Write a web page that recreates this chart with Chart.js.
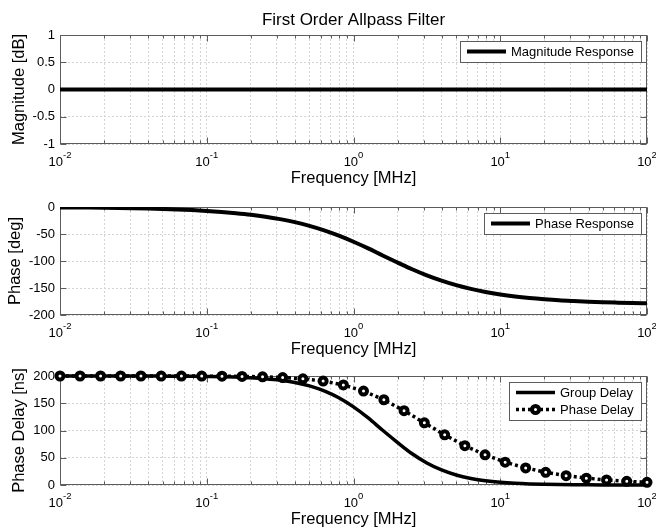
<!DOCTYPE html>
<html><head><meta charset="utf-8">
<script src="https://cdn.jsdelivr.net/npm/chart.js@4/dist/chart.umd.min.js"></script>
<style>
html,body{margin:0;padding:0;background:#fff;}
#wrap{position:relative;width:656px;height:528px;background:#fff;}
#wrap canvas{position:absolute;left:0;top:0;}
</style></head><body>
<div id="wrap">
<canvas id="c1" width="656" height="528"></canvas>
<canvas id="c2" width="656" height="528"></canvas>
<canvas id="c3" width="656" height="528"></canvas>
</div>
<script>
// ---------- data ----------
const chartTitle = 'First Order Allpass Filter';
const xAxisTitle = 'Frequency [MHz]';
const freqMHz = [0.01,0.0126,0.0158,0.02,0.0251,0.0316,0.0398,0.0501,0.0631,0.0794,
  0.1,0.126,0.158,0.2,0.251,0.316,0.398,0.501,0.631,0.794,
  1,1.26,1.58,2,2.51,3.16,3.98,5.01,6.31,7.94,
  10,12.6,15.8,20,25.1,31.6,39.8,50.1,63.1,79.4,100];
const magnitudeDb = [0,0,0,0,0,0,0,0,0,0,0,0,0,0,0,0,0,0,0,0,0,0,0,0,0,0,0,0,0,0,0,0,0,0,0,0,0,0,0,0,0];
const phaseDeg = [-0.7,-0.9,-1.1,-1.4,-1.8,-2.3,-2.9,-3.6,-4.5,-5.7,
  -7.2,-9.1,-11.4,-14.3,-17.9,-22.5,-28.1,-35.0,-43.3,-53.1,
  -64.3,-76.7,-89.8,-102.9,-115.3,-126.6,-136.4,-144.8,-151.7,-157.3,
  -161.9,-165.6,-168.5,-170.9,-172.8,-174.2,-175.4,-176.4,-177.1,-177.7,-178.2];
const groupDelayNs = [200,200,200,200,200,200,199.9,199.8,199.7,199.5,
  199.2,198.8,198.0,196.9,195.1,192.4,188.2,182.0,172.8,160.1,
  143.4,123.0,100.4,77.8,57.3,40.4,27.6,18.3,12.0,7.7,
  4.9,3.1,2.0,1.3,0.8,0.5,0.3,0.2,0.1,0.1,0.1];
const freqMarkersMHz = [0.01,0.0137,0.0189,0.0259,0.0356,0.0489,0.0672,0.0924,0.127,0.174,
  0.240,0.329,0.452,0.621,0.853,1.17,1.61,2.21,3.04,4.18,
  5.74,7.88,10.8,14.9,20.4,28.1,38.6,53.0,72.8,100];
const phaseDelayNs = [200,200,200,200,200,199.9,199.9,199.8,199.6,199.2,
  198.5,197.2,194.9,190.7,183.7,172.4,156.4,136.3,114.0,92.0,
  72.1,55.4,41.9,31.3,23.3,17.2,12.6,9.3,6.8,4.9];
const xTickValues = [0.01,0.1,1,10,100];
const xTickExponents = ['-2','-1','0','1','2'];
const magTicks = [-1,-0.5,0,0.5,1];
const phaseTicks = [-200,-150,-100,-50,0];
const delayTicks = [0,50,100,150,200];

// ---------- styling / helpers ----------
const FONT = "'Liberation Sans', Arial, sans-serif";
Chart.defaults.font.family = FONT;
Chart.defaults.color = '#000';
const AXIS_COLOR = '#5c5c5c';
const GRID_COLOR = '#d4d4d4';

const xGridTicks = [];
for (let e = -2; e <= 1; e++) {
  for (let m = 1; m <= 9; m++) xGridTicks.push({value: m * Math.pow(10, e), major: m === 1});
}
xGridTicks.push({value: 100, major: true});

const zip = (xs, ys) => xs.map((v, i) => ({x: v, y: ys[i]}));

const axesDecor = {
  id: 'axesDecor',
  beforeDatasetsDraw(chart) {
    const {ctx, chartArea: a, scales: {x, y}} = chart;
    const L = Math.round(a.left) + 0.5, R = Math.round(a.right) - 0.5;
    const T = Math.round(a.top) + 0.5, B = Math.round(a.bottom) - 0.5;
    ctx.save();
    ctx.strokeStyle = AXIS_COLOR; ctx.lineWidth = 1; ctx.setLineDash([]);
    ctx.beginPath();
    xGridTicks.forEach(t => {
      const px = Math.round(x.getPixelForValue(t.value)) + 0.5;
      const len = t.major ? 6 : 3;
      ctx.moveTo(px, B); ctx.lineTo(px, B - len);
      ctx.moveTo(px, T); ctx.lineTo(px, T + len);
    });
    y.ticks.forEach(t => {
      const py = Math.round(y.getPixelForValue(t.value)) + 0.5;
      ctx.moveTo(L, py); ctx.lineTo(L + 6, py);
      ctx.moveTo(R, py); ctx.lineTo(R - 6, py);
    });
    ctx.stroke();
    ctx.strokeRect(L, T, R - L, B - T);
    ctx.restore();
  },
  afterDraw(chart) {
    const {ctx, chartArea: a, scales: {x}} = chart;
    ctx.save();
    ctx.fillStyle = '#000';
    ctx.textBaseline = 'alphabetic';
    xTickValues.forEach((v, i) => {
      const px = x.getPixelForValue(v);
      ctx.font = `13px ${FONT}`;
      const w1 = ctx.measureText('10').width;
      ctx.font = `9.5px ${FONT}`;
      const w2 = ctx.measureText(xTickExponents[i]).width;
      const sx = px - (w1 + w2) / 2;
      ctx.font = `13px ${FONT}`;
      ctx.textAlign = 'left';
      ctx.fillText('10', sx, a.bottom + 22);
      ctx.font = `9.5px ${FONT}`;
      ctx.fillText(xTickExponents[i], sx + w1, a.bottom + 14);
    });
    ctx.restore();
  }
};

const legendBox = {
  id: 'legendBox',
  afterDraw(chart, args, opts) {
    if (!opts.items || !opts.items.length) return;
    const {ctx, chartArea: a} = chart;
    ctx.save();
    ctx.font = `13px ${FONT}`;
    const tw = Math.max(...opts.items.map(it => ctx.measureText(it.label).width));
    const w = Math.round(51 + tw + 7);
    const h = 4 + 17 * opts.items.length;
    const right = Math.round(a.right) - 6, top = Math.round(a.top) + 6;
    const left = right - w;
    ctx.fillStyle = '#fff';
    ctx.fillRect(left, top, w, h);
    ctx.strokeStyle = AXIS_COLOR; ctx.lineWidth = 1;
    ctx.strokeRect(left + 0.5, top + 0.5, w, h);
    opts.items.forEach((it, i) => {
      const cy = top + 10.5 + 17 * i;
      const x1 = left + 7, x2 = left + 46;
      ctx.strokeStyle = '#000'; ctx.lineWidth = it.width; ctx.lineCap = 'butt';
      ctx.setLineDash(it.dash || []);
      ctx.beginPath(); ctx.moveTo(x1, cy); ctx.lineTo(x2, cy); ctx.stroke();
      ctx.setLineDash([]);
      if (it.marker) {
        ctx.beginPath(); ctx.arc((x1 + x2) / 2, cy, 3.5, 0, Math.PI * 2);
        ctx.fillStyle = '#fff'; ctx.fill();
        ctx.lineWidth = 4; ctx.strokeStyle = '#000'; ctx.stroke();
      }
      ctx.fillStyle = '#000'; ctx.textBaseline = 'middle'; ctx.textAlign = 'left';
      ctx.fillText(it.label, left + 51, cy + 0.5);
    });
    ctx.restore();
  }
};

const mainTitle = {
  id: 'mainTitle',
  afterDraw(chart, args, opts) {
    if (!opts.text) return;
    const {ctx, chartArea: a} = chart;
    ctx.save();
    ctx.font = `17px ${FONT}`;
    ctx.fillStyle = '#000'; ctx.textAlign = 'center'; ctx.textBaseline = 'alphabetic';
    ctx.fillText(opts.text, (a.left + a.right) / 2, 25);
    ctx.restore();
  }
};

function makeChart(id, cfg) {
  return new Chart(document.getElementById(id), {
    type: 'line',
    data: {datasets: cfg.datasets},
    options: {
      responsive: false, animation: false, events: [],
      layout: {padding: {top: cfg.top, left: 0, right: 9, bottom: 528 - cfg.bottom - 50}},
      plugins: {
        legend: {display: false}, tooltip: {enabled: false},
        legendBox: {items: cfg.legend},
        mainTitle: {text: cfg.title || ''}
      },
      scales: {
        x: {
          type: 'logarithmic', min: 0.01, max: 100,
          afterBuildTicks: s => { s.ticks = xGridTicks.map(t => ({value: t.value})); },
          afterFit: s => { s.height = 50; },
          ticks: {display: false},
          grid: {color: GRID_COLOR, lineWidth: 1, drawTicks: false},
          border: {display: false, dash: [2, 2]},
          title: {display: true, text: xAxisTitle, color: '#000', font: {size: 16.5}, padding: {top: 0, bottom: 6}}
        },
        y: {
          min: cfg.yTicks[0], max: cfg.yTicks[cfg.yTicks.length - 1],
          afterBuildTicks: s => { s.ticks = cfg.yTicks.map(v => ({value: v})); },
          afterFit: s => { s.width = 60; },
          ticks: {padding: 5, color: '#000', font: {size: 13}, callback: v => String(v)},
          grid: {color: GRID_COLOR, lineWidth: 1, drawTicks: false},
          border: {display: false, dash: [2, 2]},
          title: {display: true, text: cfg.yTitle, color: '#000', font: {size: 16.5}, padding: {top: cfg.yTitlePad, bottom: 0}}
        }
      }
    },
    plugins: [axesDecor, legendBox, mainTitle]
  });
}

makeChart('c1', {
  title: chartTitle, top: 35, bottom: 144, yTicks: magTicks, yTitle: 'Magnitude [dB]', yTitlePad: 10,
  legend: [{label: 'Magnitude Response', width: 4}],
  datasets: [{label: 'Magnitude Response', data: zip(freqMHz, magnitudeDb), borderColor: '#000', borderWidth: 4, pointRadius: 0, fill: false}]
});
makeChart('c2', {
  top: 207, bottom: 315, yTicks: phaseTicks, yTitle: 'Phase [deg]', yTitlePad: 5.8,
  legend: [{label: 'Phase Response', width: 4}],
  datasets: [{label: 'Phase Response', data: zip(freqMHz, phaseDeg), borderColor: '#000', borderWidth: 4, pointRadius: 0, fill: false, cubicInterpolationMode: 'monotone'}]
});
makeChart('c3', {
  top: 376, bottom: 485, yTicks: delayTicks, yTitle: 'Phase Delay [ns]', yTitlePad: 10,
  legend: [{label: 'Group Delay', width: 3.5}, {label: 'Phase Delay', width: 3.5, dash: [3, 3], marker: true}],
  datasets: [
    {label: 'Group Delay', data: zip(freqMHz, groupDelayNs), borderColor: '#000', borderWidth: 3.5, pointRadius: 0, fill: false, cubicInterpolationMode: 'monotone', order: 1, clip: false},
    {label: 'Phase Delay', data: zip(freqMarkersMHz, phaseDelayNs), borderColor: '#000', borderWidth: 3.5, borderDash: [3, 3],
     pointRadius: 3.5, pointBorderWidth: 4, pointBackgroundColor: '#fff', pointBorderColor: '#000', fill: false, order: 0, clip: false}
  ]
});
</script>
</body></html>
